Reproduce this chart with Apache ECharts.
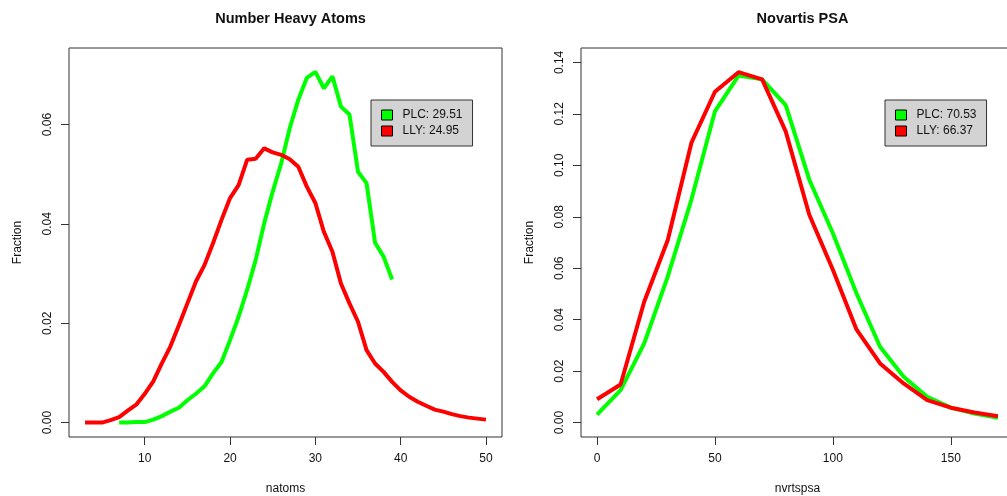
<!DOCTYPE html>
<html>
<head>
<meta charset="utf-8">
<script src="https://cdn.jsdelivr.net/npm/echarts@6/dist/echarts.min.js"></script>
<style>
  html, body { margin: 0; padding: 0; background: #fff; }
  #main { width: 1007px; height: 496px; }
</style>
</head>
<body>
<div id="main"></div>
<script>
var myChart = echarts.init(document.getElementById('main'));

// left panel: number of heavy atoms
var atomsPLC_x = [7, 8, 9, 10, 11, 12, 13, 14, 15, 16, 17, 18, 19, 20, 21, 22, 23, 24, 25, 26, 27, 28, 29, 30, 31, 32, 33, 34, 35, 36, 37, 38, 39];
var atomsPLC_y = [0.0000, 0.0000, 0.0001, 0.0001, 0.0006, 0.0013, 0.0022, 0.0030, 0.0045, 0.0058, 0.0073, 0.0099, 0.0122, 0.0166, 0.0213, 0.0267, 0.0327, 0.0401, 0.0465, 0.0522, 0.0593, 0.0650, 0.0694, 0.0706, 0.0673, 0.0697, 0.0636, 0.0620, 0.0505, 0.0482, 0.0362, 0.0334, 0.0288];
var atomsLLY_x = [3, 4, 5, 6, 7, 8, 9, 10, 11, 12, 13, 14, 15, 16, 17, 18, 19, 20, 21, 22, 23, 24, 25, 26, 27, 28, 29, 30, 31, 32, 33, 34, 35, 36, 37, 38, 39, 40, 41, 42, 43, 44, 45, 46, 47, 48, 49, 50];
var atomsLLY_y = [0.0000, 0.0000, 0.0000, 0.0005, 0.0011, 0.0024, 0.0036, 0.0058, 0.0083, 0.0119, 0.0153, 0.0196, 0.0240, 0.0284, 0.0317, 0.0361, 0.0408, 0.0452, 0.0478, 0.0529, 0.0531, 0.0552, 0.0544, 0.0539, 0.0530, 0.0515, 0.0475, 0.0442, 0.0384, 0.0344, 0.0280, 0.0240, 0.0203, 0.0146, 0.0119, 0.0102, 0.0082, 0.0065, 0.0052, 0.0042, 0.0034, 0.0026, 0.0022, 0.0017, 0.0013, 0.0010, 0.0008, 0.0006];
var atomsTicksX = [10, 20, 30, 40, 50];
var atomsTicksY = [0, 0.02, 0.04, 0.06];
var atomsMeans = { PLC: '29.51', LLY: '24.95' };

// right panel: Novartis PSA
var psaX = [0, 10, 20, 30, 40, 50, 60, 70, 80, 90, 100, 110, 120, 130, 140, 150, 160, 170];
var psaPLC_y = [0.0031, 0.0126, 0.0308, 0.0568, 0.0866, 0.1210, 0.1349, 0.1334, 0.1234, 0.0944, 0.0736, 0.0503, 0.0295, 0.0178, 0.0100, 0.0058, 0.0035, 0.0019];
var psaLLY_y = [0.0091, 0.0148, 0.0470, 0.0710, 0.1087, 0.1286, 0.1362, 0.1334, 0.1132, 0.0808, 0.0594, 0.0362, 0.0230, 0.0152, 0.0087, 0.0058, 0.0039, 0.0025];
var psaTicksX = [0, 50, 100, 150];
var psaTicksY = [0, 0.02, 0.04, 0.06, 0.08, 0.10, 0.12, 0.14];
var psaMeans = { PLC: '70.53', LLY: '66.37' };

var FONT = '"Liberation Sans", Arial, sans-serif';
var TXT = '#111';

function pairs(xs, ys) {
    return xs.map(function (x, i) { return [x, ys[i]]; });
}

function xAxisR(idx, min, max, ticks, name) {
    return {
        type: 'value', gridIndex: idx, min: min, max: max,
        name: name, nameLocation: 'middle', nameGap: 46,
        nameTextStyle: { fontFamily: FONT, fontSize: 12, color: TXT },
        axisLine: { show: false, onZero: false },
        splitLine: { show: false },
        axisTick: { show: true, inside: false, length: 8, customValues: ticks, lineStyle: { color: '#333' } },
        axisLabel: { customValues: ticks, margin: 16, fontFamily: FONT, fontSize: 12, color: TXT }
    };
}

function yAxisR(idx, min, max, ticks) {
    return {
        type: 'value', gridIndex: idx, min: min, max: max,
        name: 'Fraction', nameLocation: 'middle', nameGap: 45,
        nameTextStyle: { fontFamily: FONT, fontSize: 12, color: TXT },
        axisLine: { show: false, onZero: false },
        splitLine: { show: false },
        axisTick: { show: true, inside: false, length: 8, customValues: ticks, lineStyle: { color: '#333' } },
        axisLabel: {
            customValues: ticks, rotate: 90, margin: 15,
            fontFamily: FONT, fontSize: 12, color: TXT,
            formatter: function (v) { return v.toFixed(2); }
        }
    };
}

function legendR(left, top, names, means) {
    return {
        left: left, top: top, orient: 'vertical',
        data: names,
        icon: 'rect', itemWidth: 11, itemHeight: 10, itemGap: 4,
        backgroundColor: '#d3d3d3', borderColor: '#333', borderWidth: 1, borderRadius: 0,
        padding: [9, 10, 9, 10],
        itemStyle: { borderColor: '#000', borderWidth: 1 },
        textStyle: { fontFamily: FONT, fontSize: 12, color: TXT, lineHeight: 11, padding: [0, 0, 0, 5] },
        formatter: function (n) { return n.trim() + ': ' + means[n.trim()]; },
        selectedMode: false
    };
}

function lineSeries(name, xi, data, color) {
    return {
        name: name, type: 'line', xAxisIndex: xi, yAxisIndex: xi,
        data: data, showSymbol: false, symbol: 'none',
        lineStyle: { width: 4, color: color }, itemStyle: { color: color },
        z: 3
    };
}

option = {
    animation: false,
    backgroundColor: '#fff',
    title: [
        { text: 'Number Heavy Atoms', left: 285.5, top: 6, textAlign: 'center',
          textStyle: { fontFamily: FONT, fontSize: 14.5, fontWeight: 'bold', color: TXT } },
        { text: 'Novartis PSA', left: 797.5, top: 6, textAlign: 'center',
          textStyle: { fontFamily: FONT, fontSize: 14.5, fontWeight: 'bold', color: TXT } }
    ],
    legend: [
        legendR(371, 100, ['PLC ', 'LLY '], atomsMeans),
        legendR(885, 100, ['PLC', 'LLY'], psaMeans)
    ],
    grid: [
        { left: 69, right: 505, top: 48, bottom: 59, outerBoundsMode: 'none', containLabel: false,
          show: true, borderColor: '#333', borderWidth: 1, backgroundColor: 'transparent' },
        { left: 581, right: -7, top: 48, bottom: 59, outerBoundsMode: 'none', containLabel: false,
          show: true, borderColor: '#333', borderWidth: 1, backgroundColor: 'transparent' }
    ],
    xAxis: [
        xAxisR(0, 1.12, 51.88, atomsTicksX, 'natoms'),
        xAxisR(1, -6.8, 176.8, psaTicksX, 'nvrtspsa')
    ],
    yAxis: [
        yAxisR(0, -0.0029, 0.0754, atomsTicksY),
        yAxisR(1, -0.0056, 0.1456, psaTicksY)
    ],
    series: [
        lineSeries('PLC ', 0, pairs(atomsPLC_x, atomsPLC_y), '#00ff00'),
        lineSeries('LLY ', 0, pairs(atomsLLY_x, atomsLLY_y), '#ff0000'),
        lineSeries('PLC', 1, pairs(psaX, psaPLC_y), '#00ff00'),
        lineSeries('LLY', 1, pairs(psaX, psaLLY_y), '#ff0000')
    ]
};

myChart.setOption(option);
</script>
</body>
</html>
